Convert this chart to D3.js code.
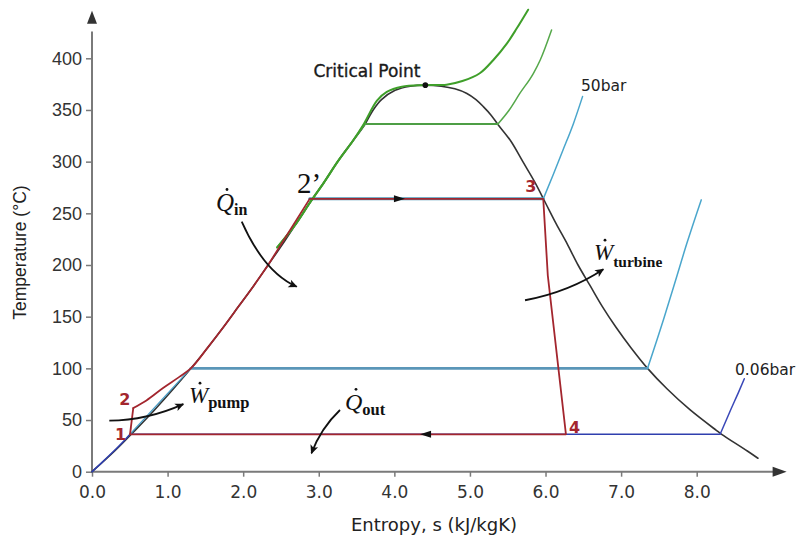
<!DOCTYPE html>
<html><head><meta charset="utf-8">
<script src="https://cdn.jsdelivr.net/npm/d3@7"></script>
<style>body{margin:0;background:#fff}svg{display:block}</style>
</head><body>
<svg id="c" width="799" height="539"></svg>
<script>
// ---- data (s in kJ/kgK, T in °C) ----
const xTicks = [0,1,2,3,4,5,6,7,8];
const yTicks = [0,50,100,150,200,250,300,350,400];
const dome = [[0,0],[0.30,20],[0.57,40],[0.83,60],[1.075,80],[1.31,100],[1.53,120],[1.74,140],[1.94,160],[2.14,180],[2.33,200],[2.52,220],[2.70,240],[2.88,260],[3.07,280],[3.25,300],[3.45,320],[3.61,336],[3.72,350],[3.83,360],[4.01,369],[4.21,373],[4.41,374],[4.62,373],[4.80,370.5],[4.96,366],[5.08,360],[5.18,353],[5.28,345],[5.37,336],[5.54,320],[5.70,300],[5.86,280],[6.00,260],[6.14,240],[6.29,220],[6.43,200],[6.59,180],[6.75,160],[6.93,140],[7.13,120],[7.35,100],[7.61,80],[7.91,60],[8.26,40],[8.33,36.2],[8.67,20],[8.81,13]];
const p006Liquid = [[0,0],[0.147,10],[0.29,20],[0.425,30],[0.503,36.2]];
const p006Flat = [[0.503,36.2],[8.31,36.2]];
const p006Vapor = [[8.31,36.2],[8.45,60],[8.56,78],[8.63,90]];
const p1Liquid = [[0.503,36.2],[1.307,100]];
const p1Flat = [[1.307,100],[7.35,100]];
const p1Vapor = [[7.35,100],[7.56,147],[7.72,185],[7.87,221],[8.06,263]];
const p50Flat = [[2.88,264],[5.97,264]];
const p50Vapor = [[5.97,264],[6.10,287],[6.23,311],[6.37,337],[6.49,363]];
const p140Liquid = [[2.45,217],[2.70,240],[2.88,260],[3.07,280],[3.25,300],[3.45,320],[3.61,336.5]];
const p140Flat = [[3.61,336.5],[5.37,336.5]];
const p140Vapor = [[5.37,336.5],[5.52,350],[5.66,366],[5.84,385.5],[5.93,398.4],[6.08,427.4]];
const pSuper = [[2.45,217],[2.70,240],[2.88,260],[3.07,280],[3.25,300],[3.45,320],[3.60,337],[3.77,359],[3.90,367.5],[4.10,372.5],[4.41,374],[4.69,374.5],[4.90,378],[5.13,385.5],[5.31,398.4],[5.49,414.5],[5.62,429],[5.77,447]];
const cyclePump = [[0.503,36.2],[0.546,61.6]];
const cycleHeat = [[0.546,61.6],[0.72,69],[0.94,81],[1.16,92],[1.307,100],[1.53,120],[1.74,140],[1.94,160],[2.14,180],[2.33,200]];
const cycleRest = [[2.33,200],[2.88,264],[5.97,264],[6.03,190],[6.27,36.2],[0.503,36.2]];
const critical = [4.41,374];
const statePoints = [{n:"1",s:0.503,T:36.2},{n:"2",s:0.546,T:61.6},{n:"3",s:5.97,T:264},{n:"4",s:6.27,T:36.2}];
const flowArrows = [{s:4.14,T:264,dir:1},{s:4.34,T:36.2,dir:-1}];
const noteArrows = [
  {from:[1.981,242.0],ctrl:[2.278,192.9],to:[2.708,179.0]},
  {from:[0.229,49.4],ctrl:[0.729,49.7],to:[1.208,65.4]},
  {from:[5.729,165.9],ctrl:[6.315,174.0],to:[6.765,195.9]},
  {from:[3.281,59.7],ctrl:[3.027,42.0],to:[2.903,17.8]}
];

// ---- scales ----
const svg = d3.select("#c");
const x = d3.scaleLinear().domain([0,8]).range([92,696.7]);
const y = d3.scaleLinear().domain([0,400]).range([471.7,58.3]);

const defs = svg.append("defs");
defs.append("marker").attr("id","ah").attr("viewBox","0 0 10 10").attr("refX",9).attr("refY",5)
  .attr("markerWidth",11).attr("markerHeight",9).attr("markerUnits","userSpaceOnUse").attr("orient","auto")
  .append("path").attr("d","M0,0.5 L10,5 L0,9.5 L2.5,5 Z").attr("fill","#111");

// ---- axes ----
const axisCol = "#7a7a7a";
const gx = svg.append("g").attr("transform",`translate(0,${y(0)})`)
  .call(d3.axisBottom(x).tickValues(xTicks).tickSize(5).tickPadding(9).tickFormat(d3.format(".1f")));
gx.select(".domain").remove();
gx.selectAll(".tick line").attr("stroke",axisCol).attr("stroke-width",1.5);
gx.selectAll(".tick text").attr("font-family","DejaVu Sans").attr("font-size",17).attr("fill","#333");

const gy = svg.append("g").attr("transform",`translate(${x(0)},0)`)
  .call(d3.axisLeft(y).tickValues(yTicks).tickSize(6).tickPadding(4));
gy.select(".domain").remove();
gy.selectAll(".tick line").attr("stroke",axisCol).attr("stroke-width",1.5);
gy.selectAll(".tick text").attr("font-family","Liberation Sans").attr("font-size",18).attr("fill","#333");

svg.append("line").attr("x1",x(0)).attr("y1",y(0)).attr("x2",x(9.02)).attr("y2",y(0)).attr("stroke",axisCol).attr("stroke-width",2);
svg.append("path").attr("d",`M${x(9.19)},${y(0)} L${x(9.19)-14},${y(0)-5} L${x(9.19)-14},${y(0)+5} Z`).attr("fill","#333");
svg.append("line").attr("x1",x(0)).attr("y1",y(0)).attr("x2",x(0)).attr("y2",y(426)).attr("stroke",axisCol).attr("stroke-width",2);
svg.append("path").attr("d",`M${x(0)},${y(446)} L${x(0)-5},${y(446)+13} L${x(0)+5},${y(446)+13} Z`).attr("fill","#333");

svg.append("text").attr("transform",`translate(26,${y(212)}) rotate(-90)`).attr("text-anchor","middle")
  .attr("font-family","Liberation Sans").attr("font-size",17.5).attr("fill","#222").text("Temperature (°C)");
svg.append("text").attr("x",434).attr("y",531).attr("text-anchor","middle")
  .attr("font-family","DejaVu Sans").attr("font-size",18).attr("fill","#222").text("Entropy, s (kJ/kgK)");

// ---- curves ----
const smooth = d3.line().x(d=>x(d[0])).y(d=>y(d[1])).curve(d3.curveMonotoneX);
const round = d3.line().x(d=>x(d[0])).y(d=>y(d[1])).curve(d3.curveCatmullRom.alpha(0.5));
const straight = d3.line().x(d=>x(d[0])).y(d=>y(d[1]));
function draw(data, gen, col, w){
  svg.append("path").attr("d",gen(data)).attr("fill","none").attr("stroke",col).attr("stroke-width",w)
    .attr("stroke-linejoin","round").attr("stroke-linecap","round");
}
draw(dome, round, "#333", 1.6);
draw(p006Liquid, smooth, "#2f3fae", 1.6);
draw(p006Flat, straight, "#2f3fae", 1.6);
draw(p006Vapor, smooth, "#3a48b8", 1.5);
draw(p1Liquid, straight, "#4a9cc4", 1.3);
draw(p1Flat, straight, "#5a96b8", 2.6);
draw(p1Vapor, smooth, "#4aa6cc", 1.5);
draw(p50Flat, straight, "#4a98b8", 3);
draw(p50Vapor, smooth, "#4aa6cc", 1.5);
draw(p140Liquid, round, "#4d9e45", 2);
draw(p140Flat, straight, "#4d9e45", 2);
draw(p140Vapor, smooth, "#55a84a", 1.5);
draw(pSuper, round, "#3f9f2a", 2);
draw(cyclePump, straight, "#a3262e", 1.8);
draw(cycleHeat, smooth, "#a3262e", 1.8);
draw(cycleRest, straight, "#a3262e", 1.8);

svg.append("circle").attr("cx",x(critical[0])).attr("cy",y(critical[1])).attr("r",2.8).attr("fill","#111");

flowArrows.forEach(a=>{
  const px=x(a.s), py=y(a.T), d=a.dir;
  svg.append("path").attr("d",`M${px},${py} L${px-11*d},${py-3.5} L${px-11*d},${py+3.5} Z`).attr("fill","#111");
});

noteArrows.forEach(a=>{
  svg.append("path").attr("d",`M${x(a.from[0])},${y(a.from[1])} Q${x(a.ctrl[0])},${y(a.ctrl[1])} ${x(a.to[0])},${y(a.to[1])}`)
    .attr("fill","none").attr("stroke","#111").attr("stroke-width",1.8).attr("marker-end","url(#ah)");
});

// ---- labels ----
svg.append("text").attr("x",367).attr("y",77).attr("text-anchor","middle").attr("font-family","DejaVu Sans")
  .attr("font-size",17).attr("fill","#1a1a1a").attr("stroke","#1a1a1a").attr("stroke-width",0.35).text("Critical Point");
svg.append("text").attr("x",581).attr("y",91).attr("font-family","DejaVu Sans").attr("font-size",15.5).attr("fill","#222").text("50bar");
svg.append("text").attr("x",735).attr("y",375).attr("font-family","DejaVu Sans").attr("font-size",15.5).attr("fill","#222").text("0.06bar");

const labelPos = {"1":[-15,6],"2":[-14,-3],"3":[-18,-7],"4":[3,-1]};
statePoints.forEach(p=>{
  svg.append("text").attr("x",x(p.s)+labelPos[p.n][0]).attr("y",y(p.T)+labelPos[p.n][1])
    .attr("font-family","DejaVu Sans").attr("font-weight","bold").attr("font-size",16).attr("fill","#a3262e").text(p.n);
});

svg.append("text").attr("x",297).attr("y",193).attr("font-family","Liberation Serif").attr("font-size",29).attr("fill","#111").text("2’");

function dotted(xp, yp, main, sub, fs, ss, dx, dy){
  const t = svg.append("text").attr("x",xp).attr("y",yp).attr("font-family","Liberation Serif").attr("fill","#111");
  t.append("tspan").attr("font-style","italic").attr("font-size",fs).text(main);
  t.append("tspan").attr("font-weight","bold").attr("font-size",ss).attr("dy",dy).text(sub);
  svg.append("circle").attr("cx",xp+dx).attr("cy",yp-fs*0.86).attr("r",1.4).attr("fill","#111");
}
dotted(216, 211, "Q", "in", 25, 16, 11, 4);
dotted(189, 403, "W", "pump", 23, 16.5, 11, 5);
dotted(594, 260, "W", "turbine", 23, 15.5, 11, 7);
dotted(345, 410, "Q", "out", 24, 16.5, 11, 5);
</script>
</body></html>
